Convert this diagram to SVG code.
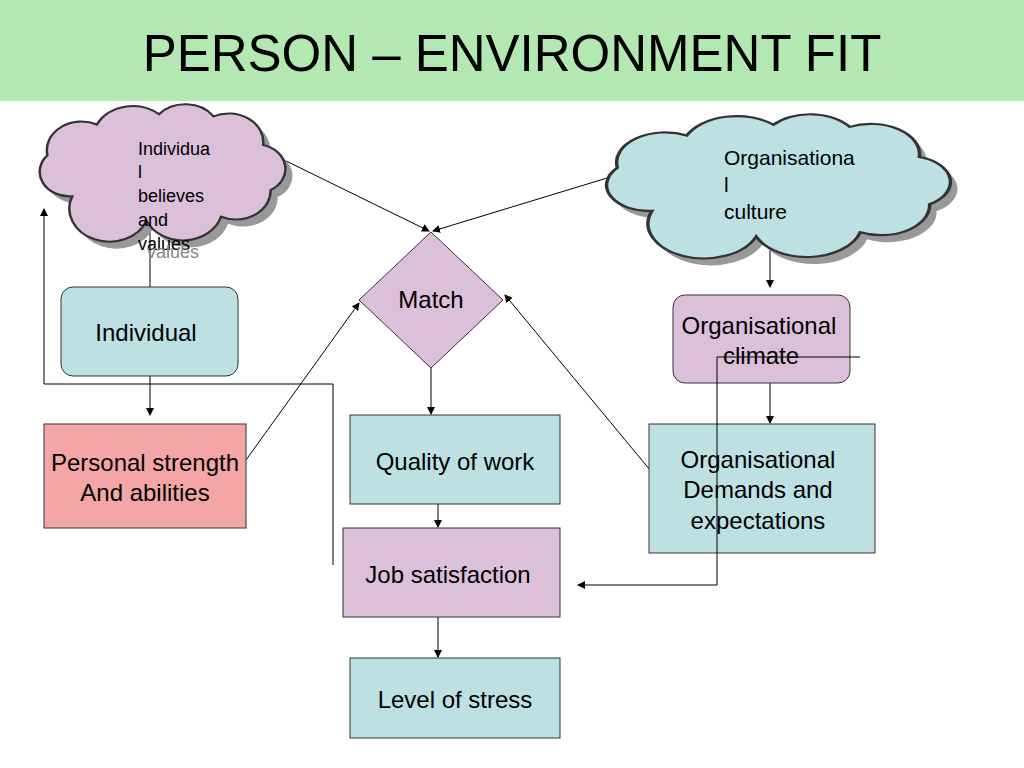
<svg xmlns="http://www.w3.org/2000/svg" width="1024" height="768" viewBox="0 0 1024 768">
<style>
text{font-family:"Liberation Sans",Arial,sans-serif;fill:#000}
.b{stroke:#333;stroke-width:1}
.c{fill:none;stroke:#000;stroke-width:1}
.cl{stroke:#333;stroke-width:1;vector-effect:non-scaling-stroke}
.sh{fill:#999}
</style>
<defs>
<marker id="a" markerWidth="8" markerHeight="8" refX="7" refY="4" orient="auto" markerUnits="userSpaceOnUse"><path d="M0,0 L8,4 L0,8 z" fill="#000"/></marker>
<path id="cloud" d="M15,45 A12,12 0 0 1 5,25 A14,14 0 0 1 25,10 A16,16 0 0 1 50,5 A14,14 0 0 1 72,6 A14,14 0 0 1 92,20 A12,12 0 0 1 95,42 A14,14 0 0 1 75,55 A16,16 0 0 1 45,57 A14,14 0 0 1 15,45 Z"/>
</defs>
<rect x="0" y="0" width="1024" height="101" fill="#b3e8b3"/>
<text x="512" y="71" font-size="51" text-anchor="middle">PERSON – ENVIRONMENT FIT</text>

<g id="connectors">
<line class="c" x1="280" y1="158" x2="429" y2="231" marker-end="url(#a)"/>
<line class="c" x1="617" y1="175" x2="433" y2="231" marker-end="url(#a)"/>
<line class="c" x1="150" y1="232" x2="150" y2="287"/>
<line class="c" x1="150" y1="376" x2="150" y2="415" marker-end="url(#a)"/>
<line class="c" x1="246" y1="460" x2="359" y2="303" marker-end="url(#a)"/>
<line class="c" x1="431" y1="368" x2="431" y2="414" marker-end="url(#a)"/>
<line class="c" x1="438" y1="504" x2="438" y2="527" marker-end="url(#a)"/>
<line class="c" x1="438" y1="617" x2="438" y2="657" marker-end="url(#a)"/>
<polyline class="c" points="333,565 333,384 44,384 44,209" marker-end="url(#a)"/>
<line class="c" x1="770" y1="245" x2="770" y2="287" marker-end="url(#a)"/>
<line class="c" x1="770" y1="383" x2="770" y2="423" marker-end="url(#a)"/>
<line class="c" x1="650" y1="470" x2="505" y2="295" marker-end="url(#a)"/>
</g>

<g id="cloud-individual">
<use href="#cloud" class="sh" transform="translate(42,111) scale(2.48,2.05)"/>
<use href="#cloud" class="cl" fill="#dcbfd9" transform="translate(35,104) scale(2.48,2.05)"/>
<text font-size="18"><tspan x="138" y="155">Individua</tspan><tspan x="138" y="178">l</tspan><tspan x="138" y="202">believes</tspan><tspan x="138" y="226">and</tspan><tspan x="138" y="250">values</tspan></text>
<text x="147" y="258" font-size="18" style="fill:#888">values</text>
</g>

<g id="cloud-culture">
<use href="#cloud" class="sh" transform="translate(607,121) scale(3.47,2.15)"/>
<use href="#cloud" class="cl" fill="#bde0e3" transform="translate(600,114) scale(3.47,2.15)"/>
<text font-size="21"><tspan x="724" y="165">Organisationa</tspan><tspan x="724" y="192">l</tspan><tspan x="724" y="219">culture</tspan></text>
</g>

<g id="individual"><rect class="b" x="61" y="287" width="177" height="89" rx="12" fill="#bde0e3"/><text x="146" y="341" font-size="24" text-anchor="middle">Individual</text></g>
<g id="personal"><rect class="b" x="44" y="424" width="202" height="104" fill="#f4a6a6"/><text font-size="24" text-anchor="middle"><tspan x="145" y="471">Personal strength</tspan><tspan x="145" y="501">And abilities</tspan></text></g>
<g id="match"><polygon class="b" points="431,232 503,300 431,368 359,300" fill="#dcbfd9"/><text x="431" y="308" font-size="24" text-anchor="middle">Match</text></g>
<g id="quality"><rect class="b" x="350" y="415" width="210" height="89" fill="#bde0e3"/><text x="455" y="470" font-size="24" text-anchor="middle">Quality of work</text></g>
<g id="job"><rect class="b" x="343" y="528" width="217" height="89" fill="#dcbfd9"/><text x="448" y="583" font-size="24" text-anchor="middle">Job satisfaction</text></g>
<g id="stress"><rect class="b" x="350" y="658" width="210" height="80" fill="#bde0e3"/><text x="455" y="708" font-size="24" text-anchor="middle">Level of stress</text></g>
<g id="climate"><rect class="b" x="673" y="295" width="177" height="88" rx="12" fill="#dcbfd9"/><text font-size="24" text-anchor="middle"><tspan x="759" y="334">Organisational</tspan><tspan x="761" y="364">climate</tspan></text></g>
<g id="demands"><rect class="b" x="649" y="424" width="226" height="129" fill="#bde0e3"/><text font-size="24" text-anchor="middle"><tspan x="758" y="468">Organisational</tspan><tspan x="758" y="498">Demands and</tspan><tspan x="758" y="529">expectations</tspan></text></g>
<g id="connectors-over">
<polyline class="c" points="860,357 717,357 717,585 578,585" marker-end="url(#a)"/>
</g>
</svg>
